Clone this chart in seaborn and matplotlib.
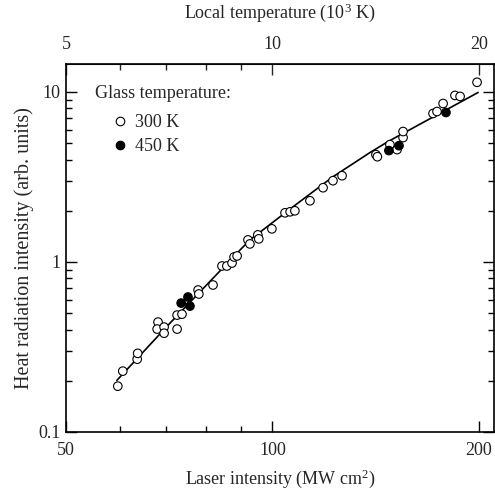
import numpy as np
import pandas as pd
import seaborn as sns
import matplotlib
matplotlib.use("Agg")
import matplotlib.pyplot as plt
from matplotlib.ticker import FixedLocator, NullFormatter, FixedFormatter

# Laser intensity (MW cm2) and heat radiation intensity (arb. units), glass at 300 K
open_x = [59.5, 60.5, 63.5, 63.6, 68.1, 67.9, 69.5, 69.5, 72.6, 72.6, 73.8,
          77.9, 78.1, 81.9, 84.4, 85.8, 87.3, 87.9, 88.8,
          92.1, 92.7, 95.2, 95.5, 99.8, 104.3, 106.1, 107.8,
          113.4, 118.5, 122.5, 126.3, 141.5, 142.2,
          148.3, 151.9, 155.0, 155.0, 171.4, 173.7, 177.3, 184.5, 187.7, 198.7]
open_y = [0.186, 0.228, 0.268, 0.290, 0.443, 0.403, 0.414, 0.381, 0.403, 0.487, 0.493,
          0.684, 0.648, 0.732, 0.947, 0.947, 0.986, 1.07, 1.085,
          1.348, 1.277, 1.443, 1.367, 1.566, 1.946, 1.973, 2.0,
          2.29, 2.733, 3.006, 3.216, 4.28, 4.16,
          4.9, 4.58, 5.39, 5.85, 7.47, 7.67, 8.55, 9.54, 9.41, 11.4]

# glass at 450 K
filled_x = [73.6, 75.3, 75.8, 147.8, 152.9, 179.0]
filled_y = [0.573, 0.622, 0.550, 4.52, 4.83, 7.57]

# fitted curve
curve_x = [59.3, 70.9, 89.7, 92.7, 107.1, 122.5, 138.7, 147.3, 199.4]
curve_y = [0.201, 0.437, 1.177, 1.348, 2.11, 3.17, 4.40, 5.1, 9.93]

df = pd.DataFrame({
    "intensity": open_x + filled_x,
    "radiation": open_y + filled_y,
    "glass": ["300 K"] * len(open_x) + ["450 K"] * len(filled_x),
})

sns.set_style("ticks")
plt.rcParams["font.family"] = ["Liberation Serif", "DejaVu Serif"]
plt.rcParams["mathtext.fontset"] = "custom"
plt.rcParams["mathtext.rm"] = "Liberation Serif"
plt.rcParams["mathtext.it"] = "Liberation Serif:italic"

fs = 13

fig = plt.figure(figsize=(4.95, 4.95), dpi=100)
ax = fig.add_axes([0.1333, 0.1273, 0.8646, 0.7434])

ax.plot(curve_x, curve_y, color="black", lw=1.2, zorder=1)
sns.scatterplot(data=df, x="intensity", y="radiation", hue="glass",
                palette={"300 K": "white", "450 K": "black"},
                edgecolor="black", linewidth=0.8, s=38, ax=ax, zorder=2)

ax.set_xscale("log")
ax.set_yscale("log")
ax.set_xlim(50, 210.3)
ax.set_ylim(0.1, 14.6)

ax.xaxis.set_major_locator(FixedLocator([50, 100, 200]))
ax.xaxis.set_major_formatter(FixedFormatter(["50", "100", "200"]))
ax.xaxis.set_minor_locator(FixedLocator([60, 70, 80, 90]))
ax.xaxis.set_minor_formatter(NullFormatter())
ax.yaxis.set_major_locator(FixedLocator([0.1, 1, 10]))
ax.yaxis.set_major_formatter(FixedFormatter(["0.1", "1", "10"]))
minor_y = [m * d for d in (0.1, 1) for m in range(2, 10)]
ax.yaxis.set_minor_locator(FixedLocator(minor_y))
ax.yaxis.set_minor_formatter(NullFormatter())

ax.tick_params(which="both", direction="in", labelsize=fs, color="black",
               width=1.0, right=True, top=False)
ax.tick_params(axis="x", pad=7)
ax.tick_params(axis="y", pad=4)
ax.tick_params(which="major", length=8)
ax.tick_params(which="minor", length=4)
for sp in ax.spines.values():
    sp.set_linewidth(1.2)
    sp.set_color("black")

ax.set_xlabel("Laser intensity (MW cm$^2$)", fontsize=fs, labelpad=6)
ax.set_ylabel("Heat radiation intensity (arb. units)", fontsize=14.5, labelpad=3)

top = ax.secondary_xaxis("top", functions=(lambda v: v / 10, lambda v: v * 10))
top.xaxis.set_major_locator(FixedLocator([5, 10, 20]))
top.xaxis.set_major_formatter(FixedFormatter(["5", "10", "20"]))
top.xaxis.set_minor_locator(FixedLocator([6, 7, 8, 9]))
top.xaxis.set_minor_formatter(NullFormatter())
top.tick_params(which="both", direction="in", labelsize=fs, width=1.0, pad=8)
top.tick_params(which="major", length=8)
top.tick_params(which="minor", length=4)
top.set_xlabel("Local temperature (10$^3$ K)", fontsize=fs, labelpad=13)

ax.text(0.068, 0.921, "Glass temperature:", transform=ax.transAxes,
        fontsize=fs, ha="left", va="center")
ax.legend(loc="upper left", bbox_to_anchor=(0.068, 0.883), frameon=False,
          fontsize=fs, handlelength=2.0, handletextpad=-0.17,
          labelspacing=0.38, borderaxespad=0.0)

fig.savefig("out.png", dpi=100)
